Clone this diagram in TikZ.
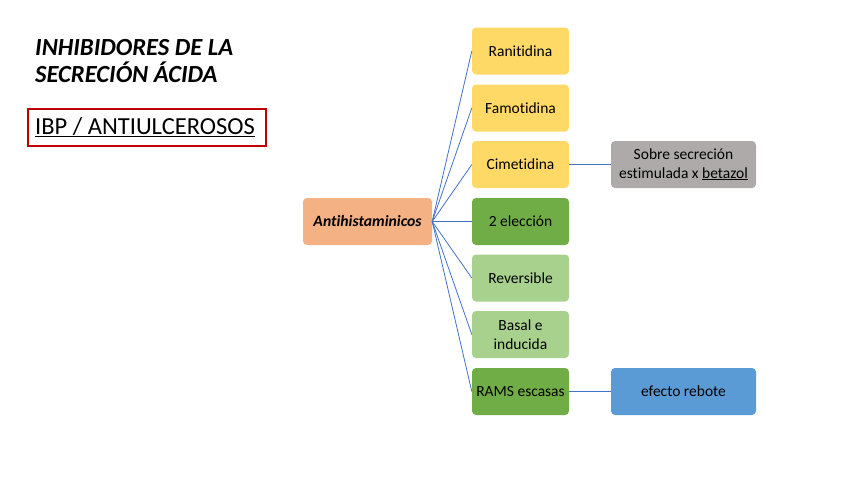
\documentclass[tikz,border=0pt]{standalone}
\usepackage{fontspec}
\setmainfont[Ligatures=NoCommon]{Carlito}
\definecolor{cyel}{HTML}{FFD966}
\definecolor{corg}{HTML}{F4B183}
\definecolor{cdgr}{HTML}{70AD47}
\definecolor{clgr}{HTML}{A9D18E}
\definecolor{cgry}{HTML}{AEAAAA}
\definecolor{cblu}{HTML}{5B9BD5}
\definecolor{cline}{HTML}{4472C4}
\definecolor{cred}{HTML}{C00000}
\tikzset{
  box/.style={rounded corners=4pt, minimum width=97pt, minimum height=47pt, inner sep=1pt, align=center, font=\fontsize{15.5}{18.5}\selectfont, text=black},
  ybox/.style={box, fill=cyel},
  dbox/.style={box, fill=cdgr},
  lbox/.style={box, fill=clgr},
  wbox/.style={box, minimum width=145pt},
  conn/.style={draw=cline, line width=0.8pt},
}
\begin{document}
\begin{tikzpicture}[x=1pt,y=-1pt]
\useasboundingbox (0,0) rectangle (848,477);
\node[anchor=base west, inner sep=0pt, font=\fontsize{24.6}{28}\selectfont\bfseries\itshape] (title) at (35,55) {INHIBIDORES DE LA};
\node[anchor=base west, inner sep=0pt, font=\fontsize{24.6}{28}\selectfont\bfseries\itshape] (title2) at (35,82) {SECRECIÓN ÁCIDA};
\node[anchor=base west, inner sep=0pt, font=\fontsize{24.5}{28}\selectfont] (ibp) at (35,134) {\underline{IBP / ANTIULCEROSOS}};
\draw[cred, line width=1.5pt] (28,109) rectangle (266,146);
\node[box, fill=corg, minimum width=129pt, font=\fontsize{15.7}{17}\selectfont\bfseries\itshape] (anti) at (367.5,221.5) {Antihistaminicos};
\node[ybox] (ran) at (520.5,51) {Ranitidina};
\node[ybox] (fam) at (520.5,108) {Famotidina};
\node[ybox] (cim) at (520.5,164.5) {Cimetidina};
\node[dbox] (ele) at (520.5,221.5) {2 elección};
\node[lbox] (rev) at (520.5,278) {Reversible};
\node[lbox] (bas) at (520.5,334.5) {Basal e\\inducida};
\node[dbox] (ram) at (520.5,391.5) {RAMS escasas};
\node[wbox, fill=cgry] (sob) at (683.5,164.5) {Sobre secreción\\estimulada x \underline{betazol}};
\node[wbox, fill=cblu] (efe) at (683.5,391.5) {efecto rebote};
\foreach \t in {ran,fam,cim,ele,rev,bas,ram}
  \draw[conn] (anti.east) -- (\t.west);
\draw[conn] (cim.east) -- (sob.west);
\draw[conn] (ram.east) -- (efe.west);
\end{tikzpicture}
\end{document}
